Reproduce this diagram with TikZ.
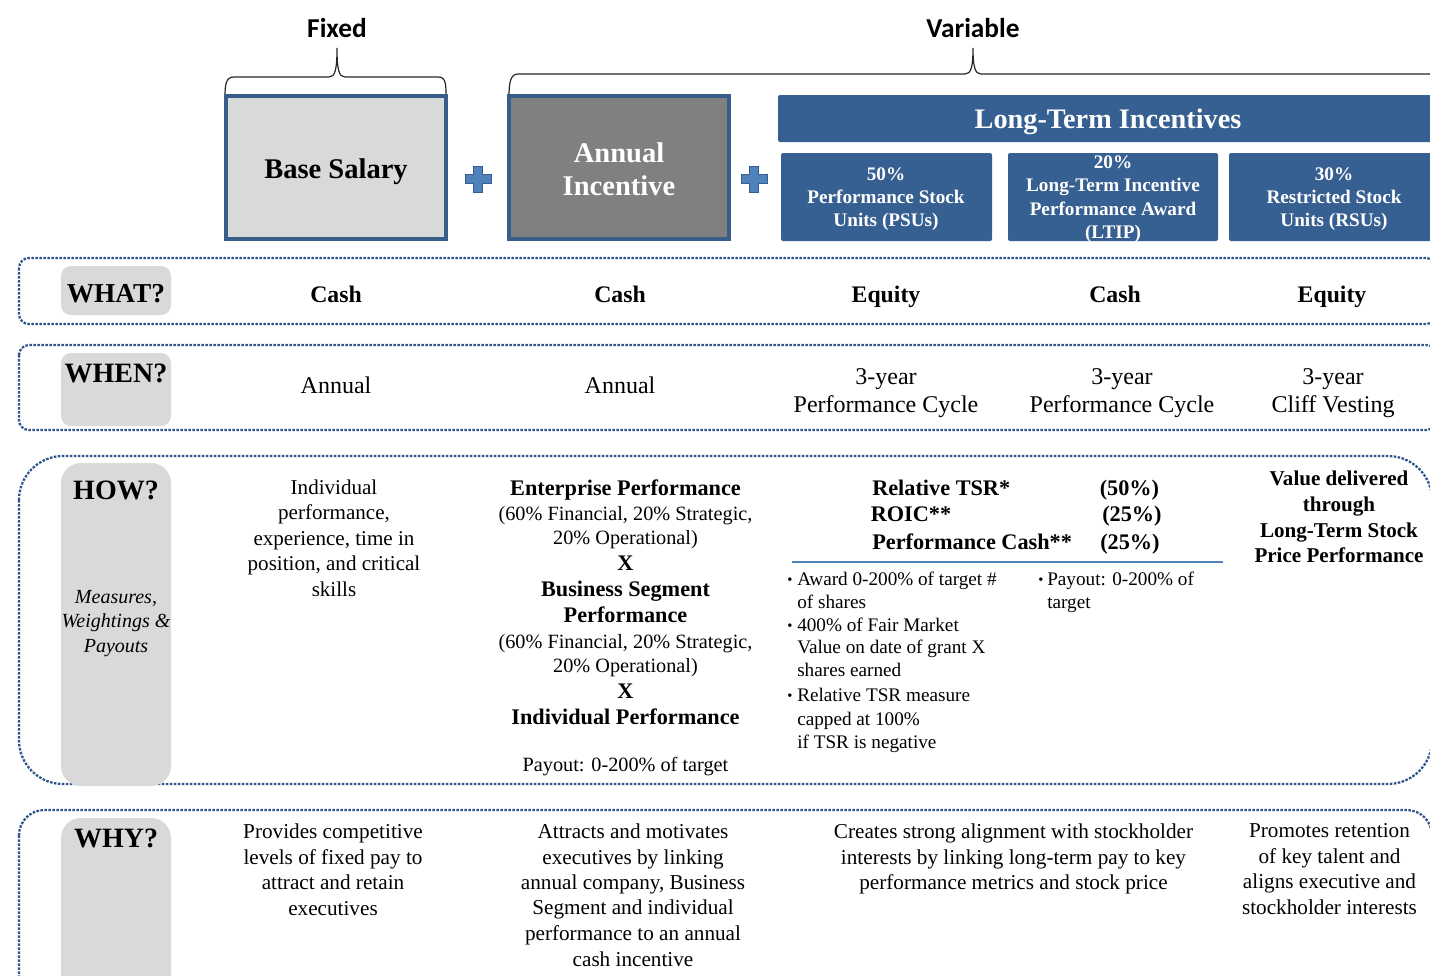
\documentclass[tikz,border=0pt]{standalone}
\usepackage{fontspec}
\setmainfont{Liberation Serif}
\newfontfamily\calib{Carlito}
\definecolor{navy}{RGB}{56,93,138}
\definecolor{ltblue}{RGB}{79,129,189}
\definecolor{band}{RGB}{55,96,146}
\definecolor{lgray}{RGB}{217,217,217}
\definecolor{dgray}{RGB}{128,128,128}
\definecolor{dotblue}{RGB}{47,84,140}
\newcommand\fsz[1]{\fontsize{#1}{#1}\selectfont}
% centred lines of text: [options]{name}{x}{font}{y/text,...}
\newcommand\clines[5][]{%
  \foreach \yy/\tx [count=\i] in {#5}{\node[txt,font=#4,#1] (#2\i) at (#3,\yy) {\tx};}}
% left-aligned lines of text
\newcommand\llines[5][]{%
  \foreach \yy/\tx [count=\i] in {#5}{\node[txtl,font=#4,#1] (#2\i) at (#3,\yy) {\tx};}}
% plus sign centred at (#1,#2)
\newcommand\plussign[2]{%
  \draw[plusst] (#1,#2) ++(-4.5,-13) -- ++(9,0) -- ++(0,8.5) -- ++(8.5,0) -- ++(0,9)
    -- ++(-8.5,0) -- ++(0,8.5) -- ++(-9,0) -- ++(0,-8.5) -- ++(-8.5,0) -- ++(0,-9)
    -- ++(8.5,0) -- cycle;}
\begin{document}
\begin{tikzpicture}[x=0.75pt,y=-0.75pt,
  txt/.style={inner sep=0pt,anchor=base},
  txtl/.style={inner sep=0pt,anchor=base west},
  brace/.style={draw=black!85,line width=0.9pt},
  topbox/.style={draw=navy,line width=2.6pt},
  bandbox/.style={fill=band,rounded corners=1.5pt},
  rowbox/.style={draw=dotblue,line width=1.7pt,dash pattern=on 1.9pt off 1.1pt},
  plusst/.style={fill=ltblue,draw=navy,line width=0.5pt},
  bold/.style={},
]
\useasboundingbox (0,0) rectangle (1430,975);
\clip (0,0) rectangle (1430,975);

% ---------- Fixed / Variable headings with braces ----------
\node[txt,font=\calib\bfseries\fsz{20.5}] (fixed) at (337,37) {Fixed};
\node[txt,font=\calib\bfseries\fsz{20.5}] (variable) at (973,37) {Variable};
\draw[brace] (225,97) .. controls (225,84) and (226,77) .. (234,77) -- (329,77)
  .. controls (335,77) and (337,70) .. (337,48)
  .. controls (337,70) and (339,77) .. (345,77) -- (438,77)
  .. controls (446,77) and (446,84) .. (446,97);
\draw[brace] (509,97) .. controls (509,84) and (510,74) .. (518,74) -- (965,74)
  .. controls (971,74) and (973,67) .. (973,48)
  .. controls (973,67) and (975,74) .. (981,74) -- (1440,74);

% ---------- top component boxes ----------
\draw[topbox,fill=lgray] (226,96) rectangle (446,239);
\draw[topbox,fill=dgray] (509,96) rectangle (729,239);
\node[txt,font=\bfseries\fsz{21.4}] (base) at (336,178) {Base Salary};
\clines[text=white]{ann}{619}{\bfseries\fsz{21.4}}{162/Annual,195/Incentive}
\plussign{478}{179}
\plussign{754}{179}

\fill[bandbox] (778,95) rectangle (1445,142);
\node[txt,font=\bfseries\fsz{21.2},text=white] (lti) at (1108,128) {Long-Term Incentives};
\fill[bandbox] (781,153) rectangle (992,241);
\fill[bandbox] (1008,153) rectangle (1218,241);
\fill[bandbox] (1229,153) rectangle (1445,241);
\clines[text=white]{psu}{886}{\bfseries\fsz{14.4}}{180.5/50\%,203.5/Performance Stock,226.5/Units (PSUs)}
\begin{scope}
  \clip (1008,153) rectangle (1218,241);
  \clines[text=white]{ltip}{1113}{\bfseries\fsz{14.4}}{168.5/20\%,191.5/Long-Term Incentive,215/Performance Award,238.5/(LTIP)}
\end{scope}
\clines[text=white]{rsu}{1334}{\bfseries\fsz{14.4}}{180.5/30\%,203.5/Restricted Stock,226.5/Units (RSUs)}

% ---------- row frames and row labels ----------
\draw[rowbox,rounded corners=7.5pt] (19,258) rectangle (1436,324);
\draw[rowbox,rounded corners=7.5pt] (19,345) rectangle (1436,430);
\draw[rowbox,rounded corners=33pt] (19,456) rectangle (1432,784);
\draw[rowbox,rounded corners=19pt] (19,810) rectangle (1432,1010);

\fill[lgray,rounded corners=7.5pt] (61,266) rectangle (171,315);
\fill[lgray,rounded corners=7.5pt] (61,353) rectangle (171,426);
\fill[lgray,rounded corners=15pt] (61,463) rectangle (171,786);
\fill[lgray,rounded corners=15pt] (61,818) rectangle (171,1000);

\node[txt,font=\bfseries\fsz{20.5}] (what) at (116,302) {WHAT?};
\node[txt,font=\bfseries\fsz{21}] (when) at (116,382) {WHEN?};
\node[txt,font=\bfseries\fsz{21}] (how) at (116,499) {HOW?};
\node[txt,font=\bfseries\fsz{21}] (why) at (116,847) {WHY?};
\clines{meas}{116}{\itshape\fsz{15}}{603/{Measures,},627/Weightings \&,652/Payouts}

% ---------- WHAT? ----------
\node[txt,font=\bfseries\fsz{17.8}] (what1) at (336,302) {Cash};
\node[txt,font=\bfseries\fsz{17.8}] (what2) at (620,302) {Cash};
\node[txt,font=\bfseries\fsz{17.8}] (what3) at (886,302) {Equity};
\node[txt,font=\bfseries\fsz{17.8}] (what4) at (1115,302) {Cash};
\node[txt,font=\bfseries\fsz{17.8}] (what5) at (1332,302) {Equity};

% ---------- WHEN? ----------
\node[txt,font=\fsz{18}] (when1) at (336,393) {Annual};
\node[txt,font=\fsz{18}] (when2) at (620,393) {Annual};
\clines{whenA}{886}{\fsz{18}}{384/3-year,412/Performance Cycle}
\clines{whenB}{1122}{\fsz{18}}{384/3-year,412/Performance Cycle}
\clines{whenC}{1333}{\fsz{18}}{384/3-year,412/Cliff Vesting}

% ---------- HOW? ----------
\clines{howA}{334}{\fsz{15.8}}{494/Individual,519.5/{performance,},545/{experience, time in},570.5/{position, and critical},596/skills}

\clines{howBb}{625.5}{\bfseries\fsz{16.7}}{495/Enterprise Performance,570/X,596/Business Segment,622/Performance,698/X,724.5/Individual Performance}
\clines{howBr}{625.5}{\fsz{15.2}}{520/{(60\% Financial, 20\% Strategic,},544/20\% Operational),648/{(60\% Financial, 20\% Strategic,},672/20\% Operational),771/Payout: 0-200\% of target}

\llines{metric}{872}{\bfseries\fsz{16.7}}{495/Relative TSR*,549/Performance Cash**}
\node[txtl,font=\bfseries\fsz{16.7}] (roic) at (870.5,521.5) {ROIC**};
\node[txtl,font=\bfseries\fsz{16.7}] (wt1) at (1099.5,495) {(50\%)};
\node[txtl,font=\bfseries\fsz{16.7}] (wt2) at (1102,521.5) {(25\%)};
\node[txtl,font=\bfseries\fsz{16.7}] (wt3) at (1100,549) {(25\%)};
\coordinate (sepL) at (792,562);
\coordinate (sepR) at (1223,562);
\draw[ltblue,line width=2.2pt] (sepL) -- (sepR);

\llines{bulA}{787}{\fsz{11}}{584/•,630/•,700.5/•}
\llines{psuA}{797}{\fsz{14.4}}{585/Award 0-200\% of target \#,608/of shares,631/400\% of Fair Market,653.5/Value on date of grant X,676.5/shares earned,701.5/Relative TSR measure,725/capped at 100\%,748/if TSR is negative}
\node[txtl,font=\fsz{11}] (bulB) at (1038,584.5) {•};
\llines{ltipA}{1047}{\fsz{14.4}}{585.5/Payout: 0-200\% of,608/target}

\clines{howC}{1339}{\bfseries\fsz{15.8}}{485/Value delivered,511/through,537/Long-Term Stock,562/Price Performance}

% ---------- WHY? ----------
\clines{whyA}{333}{\fsz{15.9}}{838/Provides competitive,864/levels of fixed pay to,889/attract and retain,915/executives}
\clines{whyB}{633}{\fsz{15.9}}{838/Attracts and motivates,864/executives by linking,889/{annual company, Business},914.5/Segment and individual,940/performance to an annual,966/cash incentive}
\clines{whyC}{1013.5}{\fsz{15.9}}{838/Creates strong alignment with stockholder,864/interests by linking long-term pay to key,889/performance metrics and stock price}
\clines{whyD}{1329.5}{\fsz{15.9}}{837/Promotes retention,863/of key talent and,888.5/aligns executive and,914/stockholder interests}
\end{tikzpicture}
\end{document}
